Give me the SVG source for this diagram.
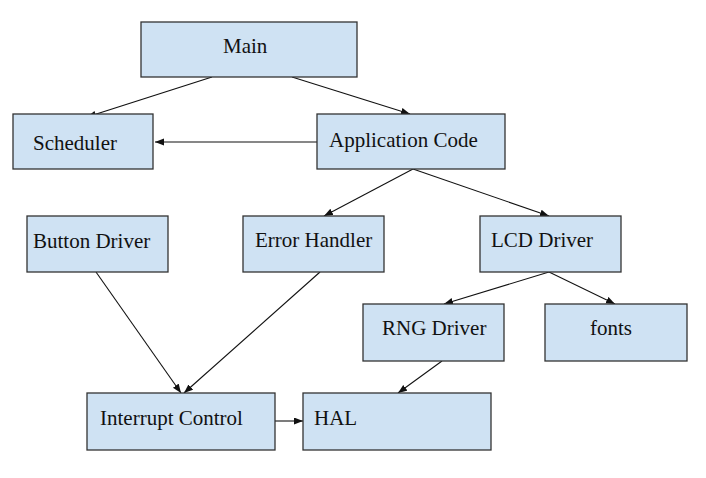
<svg xmlns="http://www.w3.org/2000/svg" width="706" height="478" viewBox="0 0 706 478">
<style>
.box{fill:#cfe2f3;stroke:#333;stroke-width:1.3}
.lbl{font-family:"Liberation Serif","Times New Roman",serif;font-size:21px;fill:#111}
.edge{stroke:#111;stroke-width:1.1;fill:none;marker-end:url(#ah)}
</style>
<defs>
<marker id="ah" markerUnits="userSpaceOnUse" markerWidth="10" markerHeight="8" refX="9" refY="3.5" orient="auto">
<path d="M0,0 L9,3.5 L0,7 z" fill="#111"/>
</marker>
</defs>
<rect width="706" height="478" fill="#fff"/>
<g id="connectors">
<line class="edge" x1="212" y1="77" x2="87" y2="117"/>
<line class="edge" x1="292" y1="77" x2="410" y2="114"/>
<line class="edge" x1="317" y1="142" x2="155" y2="142"/>
<line class="edge" x1="413" y1="169" x2="324" y2="216"/>
<line class="edge" x1="413" y1="169" x2="549" y2="216"/>
<line class="edge" x1="96" y1="272" x2="181" y2="393"/>
<line class="edge" x1="320" y1="272" x2="184" y2="393"/>
<line class="edge" x1="549" y1="272" x2="444" y2="304"/>
<line class="edge" x1="549" y1="272" x2="615" y2="304"/>
<line class="edge" x1="442" y1="361" x2="398" y2="393"/>
<line class="edge" x1="275" y1="421" x2="303" y2="421"/>
</g>
<g id="main"><rect class="box" x="141" y="22" width="216" height="55"/><text class="lbl" x="223" y="53">Main</text></g>
<g id="scheduler"><rect class="box" x="13" y="114" width="140" height="55"/><text class="lbl" x="33" y="150">Scheduler</text></g>
<g id="application-code"><rect class="box" x="317" y="114" width="188" height="55"/><text class="lbl" x="329" y="147">Application Code</text></g>
<g id="button-driver"><rect class="box" x="27" y="216" width="141" height="56"/><text class="lbl" x="33" y="248">Button Driver</text></g>
<g id="error-handler"><rect class="box" x="243" y="216" width="141" height="56"/><text class="lbl" x="255" y="247">Error Handler</text></g>
<g id="lcd-driver"><rect class="box" x="480" y="216" width="141" height="56"/><text class="lbl" x="491" y="247">LCD Driver</text></g>
<g id="rng-driver"><rect class="box" x="363" y="304" width="141" height="57"/><text class="lbl" x="382" y="335">RNG Driver</text></g>
<g id="fonts"><rect class="box" x="545" y="304" width="142" height="57"/><text class="lbl" x="590" y="335">fonts</text></g>
<g id="interrupt-control"><rect class="box" x="87" y="393" width="188" height="57"/><text class="lbl" x="100" y="425">Interrupt Control</text></g>
<g id="hal"><rect class="box" x="303" y="393" width="188" height="57"/><text class="lbl" x="314" y="425">HAL</text></g>
</svg>
